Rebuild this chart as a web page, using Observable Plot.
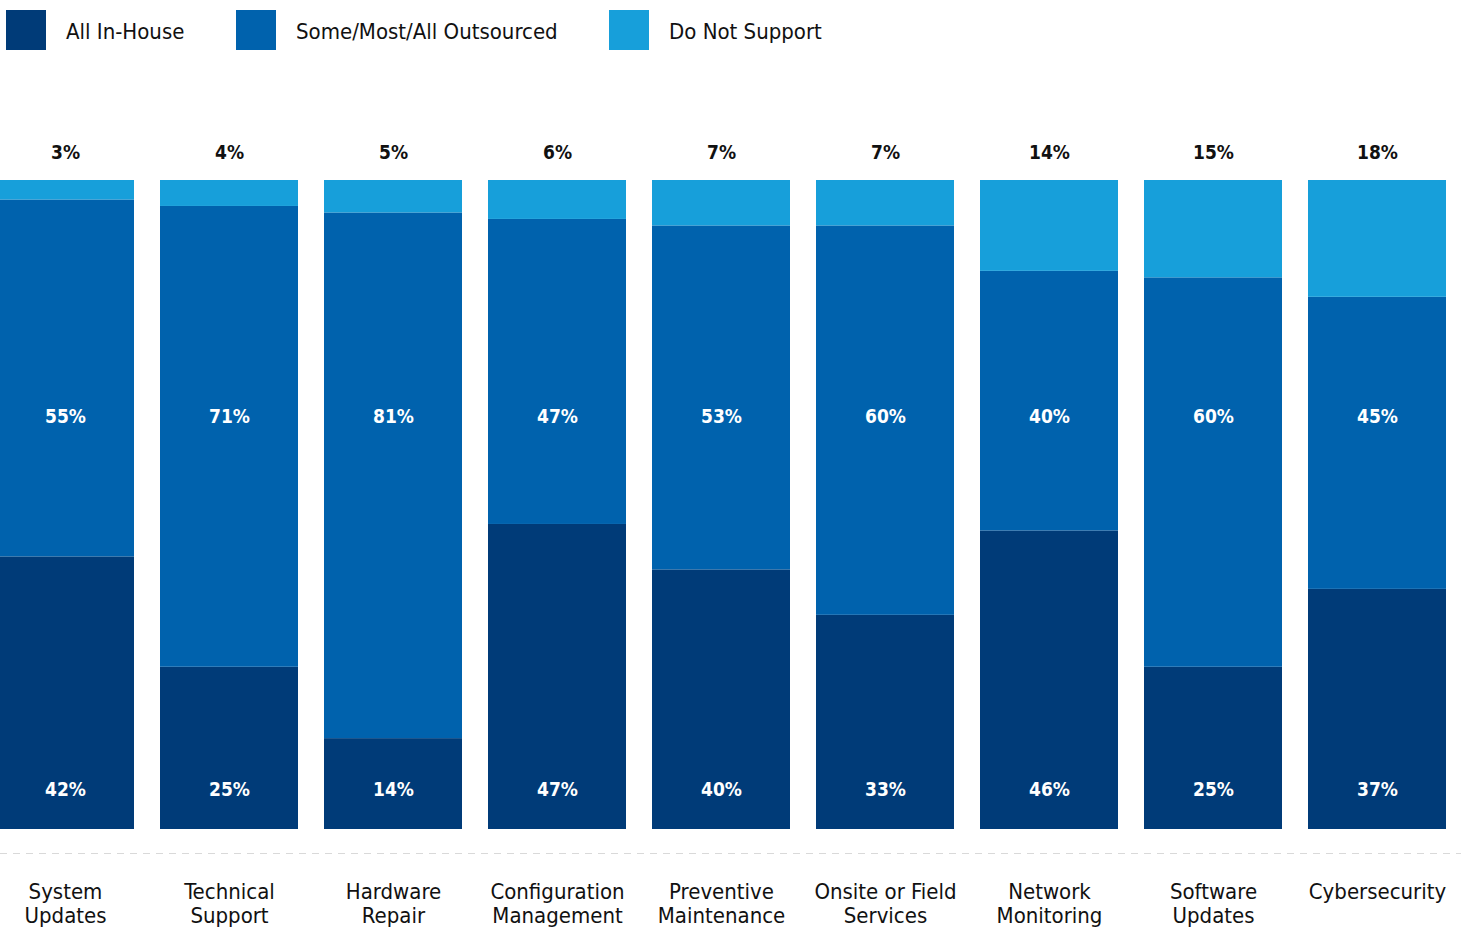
<!DOCTYPE html>
<html>
<head>
<meta charset="utf-8">
<script src="https://cdn.jsdelivr.net/npm/d3@7"></script>
<script src="https://cdn.jsdelivr.net/npm/@observablehq/plot@0.6"></script>
<style>
  html, body { margin: 0; padding: 0; background: #fff; }
  body { width: 1461px; height: 930px; overflow: hidden;
    font-family: "DejaVu Sans Condensed", "DejaVu Sans", sans-serif; font-stretch: condensed; }
  #legend { position: relative; height: 100px; }
  .item { position: absolute; top: 10px; display: flex; align-items: flex-start; }
  .sw { width: 40px; height: 40px; margin-right: 20px; }
  .lbl { font-size: 22px; color: #111; line-height: 40px; padding-top: 2px; }
  svg { display: block; }
</style>
</head>
<body>
<div id="legend"></div>
<div id="chart"></div>
<script>
const categories = ["System Updates", "Technical Support", "Hardware Repair", "Configuration Management",
  "Preventive Maintenance", "Onsite or Field Services", "Network Monitoring", "Software Updates", "Cybersecurity"];
const tickLabels = ["System\nUpdates", "Technical\nSupport", "Hardware\nRepair", "Configuration\nManagement",
  "Preventive\nMaintenance", "Onsite or Field\nServices", "Network\nMonitoring", "Software\nUpdates", "Cybersecurity"];
const series = ["All In-House", "Some/Most/All Outsourced", "Do Not Support"];
const colors = ["#003b78", "#0062ad", "#179fda"];
const inHouse =     [42, 25, 14, 47, 40, 33, 46, 25, 37];
const outsourced =  [55, 71, 81, 47, 53, 60, 40, 60, 45];
const notSupport =  [3, 4, 5, 6, 7, 7, 14, 15, 18];

// legend
const legend = document.getElementById("legend");
const legendLeft = [6, 236, 609];
series.forEach((s, i) => {
  const it = document.createElement("div");
  it.className = "item";
  it.style.left = legendLeft[i] + "px";
  it.innerHTML = `<div class="sw" style="background:${colors[i]}"></div><div class="lbl">${s}</div>`;
  legend.appendChild(it);
});

const rows = [];
categories.forEach((c, i) => {
  rows.push({cat: c, type: series[0], value: inHouse[i]});
  rows.push({cat: c, type: series[1], value: outsourced[i]});
  rows.push({cat: c, type: series[2], value: notSupport[i]});
});
const idx = categories.map((c, i) => i);
const labelFont = '"DejaVu Sans Condensed", "DejaVu Sans", sans-serif';

const chart = Plot.plot({
  width: 1461,
  height: 830,
  marginTop: 80,
  marginBottom: 101,
  marginLeft: 0,
  marginRight: 0,
  style: {fontFamily: labelFont, fontSize: "22px", background: "#fff", overflow: "hidden"},
  x: {domain: categories, range: [-18, 1460], paddingInner: 0.16, paddingOuter: 0.08, align: 0.5, axis: null},
  y: {domain: [0, 100], axis: null},
  color: {domain: series, range: colors},
  marks: [
    Plot.ruleY([0], {dy: 24, stroke: "#d9d9d9", strokeWidth: 1, strokeDasharray: "7,6"}),
    Plot.barY(rows, {x: "cat", y: "value", fill: "type"}),
    Plot.text(idx, {x: i => categories[i], frameAnchor: "top", lineAnchor: "middle", dy: -28, text: i => notSupport[i] + "%",
      fontSize: 19, fontWeight: "bold", fill: "#111"}),
    Plot.text(idx, {x: i => categories[i], frameAnchor: "top", lineAnchor: "middle", dy: 236, text: i => outsourced[i] + "%",
      fontSize: 19, fontWeight: "bold", fill: "#fff"}),
    Plot.text(idx, {x: i => categories[i], frameAnchor: "bottom", lineAnchor: "middle", dy: -40, text: i => inHouse[i] + "%",
      fontSize: 19, fontWeight: "bold", fill: "#fff"}),
    Plot.text(idx, {x: i => categories[i], frameAnchor: "bottom", lineAnchor: "top", dy: 53, lineHeight: 1.08,
      text: i => tickLabels[i], fontSize: 22, fill: "#111"})
  ]
});
document.getElementById("chart").appendChild(chart);
</script>
</body>
</html>
